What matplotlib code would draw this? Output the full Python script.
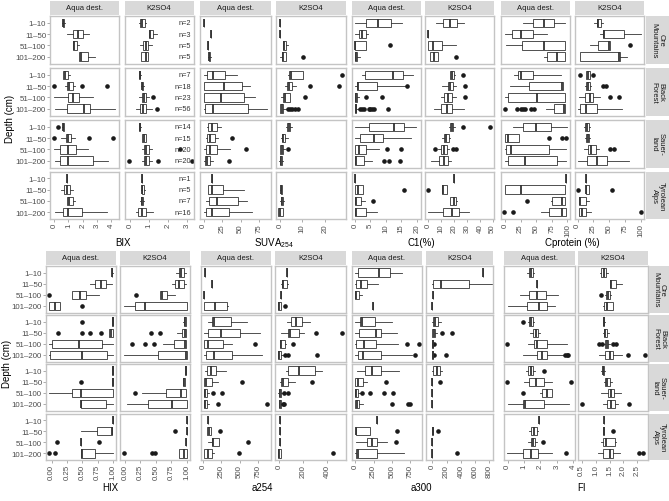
import matplotlib.pyplot as plt
from matplotlib.transforms import blended_transform_factory

plt.rcParams['font.family'] = ['Liberation Sans', 'DejaVu Sans']
plt.rcParams['mathtext.default'] = 'regular'

REGIONS = ['Ore\nMountains', 'Black\nForest', 'Sauer-\nland', 'Tyrolean\nAlps']
DEPTHS = ['1–10', '11–50', '51–100', '101–200']
EXTRACTANTS = ['Aqua dest.', 'K2SO4']
N_COUNTS = [[2, 3, 5, 5], [7, 18, 23, 56], [14, 15, 20, 20], [1, 5, 7, 16]]

# one entry per region x depth: ((whisker low, q1, median, q3, whisker high), outliers)
# a single value means one sample, None means no data
BIX_AQUA = [
    ((0.55, 0.58, 0.62, 0.68, 0.72), []), ((0.86, 1.29, 1.64, 2.04, 2.46), []),
    ((1.29, 1.29, 1.38, 1.57, 1.71), []), ((1.73, 1.73, 1.87, 2.39, 2.86), []),
    ((0.62, 0.62, 0.74, 0.97, 1.10), []), ((0.74, 0.86, 1.05, 1.29, 1.45), [0.0, 1.92, 3.69]),
    ((0.0, 0.97, 1.33, 1.75, 2.70), []), ((0.04, 0.90, 2.10, 2.50, 4.30), []),
    ((0.55, 0.60, 0.63, 0.67, 0.70), [0.27]), ((0.50, 0.80, 0.98, 1.21, 1.45), [0.0, 2.46, 4.10]),
    ((0.0, 0.39, 0.98, 1.52, 2.39), []), ((0.04, 0.39, 0.98, 2.74, 3.80), []),
    ((0.90,), []), ((0.50, 0.67, 0.86, 1.14, 1.33), []),
    ((0.86, 0.86, 1.02, 1.33, 1.45), []), ((0.04, 0.58, 0.98, 1.92, 3.69), []),
]
BIX_K2SO4 = [
    ((0.47, 0.54, 0.65, 0.77, 0.86), []), ((0.98, 0.98, 1.04, 1.21, 1.39), []),
    ((0.50, 0.68, 0.81, 0.95, 1.13), []), ((0.59, 0.59, 0.81, 0.95, 0.95), []),
    ((0.45, 0.47, 0.50, 0.53, 0.55), []), ((0.58, 0.60, 0.65, 0.70, 0.72), []),
    ((0.47, 0.65, 0.73, 0.86, 1.00), [1.21]), ((0.29, 0.54, 0.68, 0.86, 1.13), [1.39]),
    ((0.45, 0.47, 0.50, 0.53, 0.56), []), ((0.65, 0.65, 0.73, 0.81, 0.81), []),
    ((0.60, 0.73, 0.86, 1.00, 1.13), [2.63]), ((0.60, 0.73, 0.86, 0.98, 1.13), [-0.05, 1.44, 3.25]),
    ((0.65,), []), ((0.55, 0.60, 0.65, 0.73, 0.78), []),
    ((0.52, 0.56, 0.60, 0.68, 0.72), []), ((0.29, 0.41, 0.60, 0.82, 1.21), []),
]
SUVA_AQUA = [
    ((0.5,), []), ((10.0,), []), ((6.0,), []), ((5.5, 6.5, 7.5, 9.0, 10.0), []),
    ((0.0, 4.0, 13.0, 29.0, 45.0), []), ((0.0, 1.0, 27.0, 52.0, 62.0), []),
    ((0.0, 0.0, 23.6, 54.0, 70.0), []), ((0.0, 2.0, 13.0, 60.0, 86.0), []),
    ((4.0, 6.4, 11.0, 17.7, 24.0), []), ((3.0, 4.0, 9.0, 15.0, 20.0), [38.0]),
    ((0.0, 3.0, 9.0, 17.7, 36.0), [57.0]), ((0.0, 2.0, 5.0, 9.0, 12.0), [34.0]),
    ((11.7,), []), ((6.0, 6.0, 11.0, 26.0, 54.0), []),
    ((3.0, 7.6, 18.0, 47.0, 58.0), []), ((0.0, 3.0, 11.7, 33.6, 65.0), []),
]
SUVA_K2SO4 = [
    ((0.1,), []), ((0.1,), []), ((1.6, 1.6, 1.9, 2.8, 3.6), []), ((0.0, 1.1, 1.3, 2.8, 2.8), [10.2]),
    ((3.6, 4.3, 5.1, 10.2, 10.2), [27.6]), ((2.1, 3.1, 4.3, 5.5, 7.3), [13.6, 26.5]),
    ((0.5, 1.6, 2.1, 4.6, 4.6), [11.3]), ((0.0, 0.2, 0.8, 1.6, 2.8), [3.6, 4.6, 5.6, 6.6, 8.0]),
    ((2.6, 3.3, 3.9, 4.6, 5.3), []), ((0.7, 1.1, 1.6, 2.5, 3.6), []),
    ((0.0, 0.3, 1.0, 1.6, 2.5), [3.6]), ((-0.5, 0.0, 0.5, 1.1, 1.6), []),
    None, ((0.3, 0.4, 0.6, 1.1, 1.1), []),
    ((0.3, 0.7, 1.1, 1.6, 2.0), []), ((-0.6, -0.6, 0.2, 1.3, 1.3), []),
]
C1_AQUA = [
    ((0.0, 3.7, 7.5, 11.6, 15.2), []), ((0.0, 1.3, 2.4, 3.5, 4.3), []),
    ((0.0, 0.0, 0.0, 3.7, 3.7), [11.4]), ((0.0, 0.0, 0.2, 0.7, 1.5), []),
    ((2.4, 3.2, 12.3, 15.5, 18.8), []), ((0.0, 0.8, 0.9, 7.0, 16.1), [16.9]),
    ((0.0, 0.0, 0.2, 0.7, 1.2), [3.7, 8.9]),
    ((0.0, 0.0, 0.2, 0.5, 1.0), [1.8, 2.4, 3.0, 4.4, 5.0, 5.6, 6.2, 10.6]),
    ((0.0, 4.6, 12.7, 16.0, 19.6), []), ((0.0, 1.5, 6.1, 9.2, 18.2), []),
    ((0.0, 0.0, 1.3, 3.7, 7.9), [10.3, 15.0]), ((0.0, 0.0, 0.3, 3.0, 5.4), [9.4, 11.1, 14.6]),
    ((0.0,), []), ((0.0, 0.0, 1.0, 2.6, 2.6), [16.0]),
    ((0.0, 0.0, 0.5, 2.0, 3.4), [5.7]), ((0.0, 0.1, 0.4, 3.7, 7.0), []),
]
C1_K2SO4 = [
    ((6.0, 11.5, 17.2, 22.3, 27.7), []), ((0.2,), []),
    ((0.2, 0.2, 3.5, 11.0, 21.8), []), ((1.0, 1.7, 4.7, 7.3, 7.3), [21.8]),
    ((16.5, 17.2, 18.5, 19.7, 20.5), [27.2]), ((11.0, 15.2, 17.2, 19.2, 21.8), [28.5]),
    ((9.7, 12.2, 15.2, 18.5, 21.8), [28.5]), ((4.8, 9.7, 14.8, 18.5, 27.7), []),
    ((16.0, 17.2, 18.5, 19.5, 20.5), [27.2, 48.0]), ((11.0, 12.5, 14.0, 16.0, 17.0), []),
    ((7.3, 9.7, 12.5, 14.8, 15.8), [5.5, 19.3, 21.8]), ((2.2, 8.5, 12.2, 15.0, 17.5), []),
    ((19.7,), []), ((10.5, 10.5, 11.8, 14.8, 14.8), [0.2]),
    ((17.2, 17.2, 19.7, 21.8, 22.5), []), ((0.2, 11.8, 18.5, 23.5, 32.0), []),
]
CPROT_AQUA = [
    ((28.4, 45.7, 62.6, 78.4, 95.7), []), ((0.0, 11.7, 25.9, 45.7, 67.8), []),
    ((2.2, 27.4, 62.6, 95.7, 95.7), []), ((62.6, 67.8, 83.6, 95.7, 95.7), []),
    ((15.3, 20.5, 25.9, 45.3, 89.0), []), ((7.4, 37.9, 91.0, 92.6, 92.6), []),
    ((0.6, 4.7, 50.5, 95.7, 95.7), []),
    ((65.2, 78.4, 94.2, 95.7, 95.7), [0.6, 19.5, 26.0, 29.0, 32.0, 42.0, 47.0]),
    ((13.7, 28.4, 49.5, 73.2, 99.4), []), ((0.0, 0.0, 4.7, 23.2, 23.2), [70.5, 90.5, 97.8]),
    ((0.0, 2.2, 10.0, 70.5, 98.4), []), ((0.0, 4.7, 32.6, 83.6, 98.4), []),
    ((98.4,), []), ((0.6, 0.6, 25.9, 95.7, 95.7), []),
    ((74.0, 75.7, 90.5, 96.8, 96.8), [34.7]), ((57.4, 70.5, 90.5, 97.8, 97.8), [-1.6, 13.7]),
]
CPROT_K2SO4 = [
    ((26.3, 30.0, 32.8, 36.6, 40.8), []), ((35.5, 39.8, 42.4, 73.0, 100.0), []),
    ((19.4, 32.8, 48.9, 51.6, 51.6), [82.3]), ((4.3, 4.3, 65.0, 67.7, 77.4), []),
    ((14.0, 14.0, 16.6, 19.4, 19.4), [3.2, 24.7]), ((12.0, 14.0, 16.6, 19.4, 22.0), [39.8, 45.0]),
    ((1.6, 11.3, 19.4, 24.7, 35.5), [51.6, 65.0]), ((0.0, 4.3, 14.0, 30.0, 70.5), []),
    ((10.0, 12.4, 15.0, 18.2, 20.0), []), ((12.0, 14.0, 16.0, 18.2, 19.4), []),
    ((9.7, 16.6, 22.0, 29.0, 34.3), [50.5, 57.0]), ((0.5, 15.6, 30.0, 46.2, 81.0), []),
    ((14.0,), []), ((12.9, 12.9, 13.5, 18.2, 18.2), [0.5, 54.4]),
    ((2.1, 2.1, 3.5, 12.9, 18.2), []), ((2.1, 2.1, 7.6, 14.0, 22.0), [100.0]),
]
HIX_AQUA = [
    ((0.98, 0.98, 0.99, 0.99, 1.0), []), ((0.62, 0.71, 0.80, 0.89, 0.99), []),
    ((0.33, 0.33, 0.46, 0.56, 0.77), [-0.04]), ((-0.04, -0.04, 0.05, 0.13, 0.13), [0.49]),
    ((0.99, 0.99, 1.0, 1.0, 1.0), [0.49]), ((0.94, 0.94, 0.97, 1.0, 1.0), [0.10, 0.49, 0.62, 0.80]),
    ((-0.04, 0.0, 0.45, 0.82, 1.0), []), ((-0.04, -0.02, 0.49, 0.90, 1.0), []),
    ((0.99, 0.99, 1.0, 1.0, 1.0), []), ((0.99, 0.99, 1.0, 1.0, 1.0), [0.48]),
    ((-0.04, 0.33, 0.48, 1.0, 1.0), []), ((0.48, 0.48, 0.48, 0.88, 1.0), []),
    ((1.0,), []), ((0.48, 0.74, 0.98, 0.99, 0.99), []),
    ((0.48,), [0.09, 0.78]), ((0.48, 0.48, 0.49, 0.71, 1.0), [-0.04, 0.05]),
]
HIX_K2SO4 = [
    ((0.83, 0.87, 0.91, 0.95, 0.98), []), ((0.76, 0.81, 0.88, 0.95, 0.98), []),
    ((0.56, 0.56, 0.60, 0.68, 0.80), [0.18]), ((-0.02, 0.16, 0.33, 1.0, 1.0), []),
    ((0.94, 0.95, 0.97, 0.99, 0.99), []), ((0.84, 0.92, 0.97, 0.99, 0.99), [0.42, 0.57]),
    ((0.62, 0.79, 0.97, 0.99, 0.99), [0.12, 0.32, 0.47]), ((-0.02, 0.54, 0.98, 1.0, 1.0), []),
    ((0.97, 0.97, 0.98, 0.99, 0.99), []), ((0.94, 0.94, 0.95, 0.97, 0.97), []),
    ((0.27, 0.66, 0.90, 0.98, 0.99), [0.16]), ((0.03, 0.38, 0.76, 1.0, 1.0), []),
    ((1.0,), []), ((1.0,), [0.80]),
    ((0.99,), []), ((0.88, 0.88, 0.95, 1.0, 1.0), [-0.02, 0.43, 0.49]),
]
A254_AQUA = [
    ((27,), []), ((127,), []), ((18,), []), ((14, 14, 164, 323, 337), []),
    ((72, 119, 154, 378, 604), []), ((14, 72, 241, 505, 778), []),
    ((14, 14, 64, 277, 392), [709]), ((14, 41, 150, 400, 809), []),
    ((30, 50, 109, 177, 314), []), ((10, 14, 41, 119, 209), [528]),
    ((10, 14, 30, 59, 80), [141, 255]), ((10, 14, 30, 59, 80), [200, 877]),
    ((72,), []), ((50, 50, 80, 109, 109), [232]),
    ((72, 119, 140, 218, 218), [609]), ((14, 14, 64, 119, 154), [491]),
]
A254_K2SO4 = [
    ((64,), []), ((18, 22, 35, 64, 78), []), ((17,), []), ((-6, -6, 0, 17, 17), [50]),
    ((64, 100, 142, 189, 253), []), ((17, 78, 92, 167, 211), [306, 522]),
    ((8, 8, 20, 50, 60), [119]), ((-6, -6, 0, 17, 30), [50, 78, 314]),
    ((60, 78, 167, 300, 356), []), ((10, 17, 35, 78, 133), [272]),
    ((-5, 0, 8, 17, 25), [42, 78]), ((0, 2, 8, 17, 25), [33, 42]),
    ((8,), []), ((8,), []), ((8,), []), ((-6, -6, 0, 14, 14), [444]),
]
A300_AQUA = [
    ((0, 38, 325, 471, 630), []), ((0, 3, 75, 166, 311), []),
    ((0, 0, 15, 52, 85), []), ((235,), []),
    ((0, 61, 85, 266, 494), []), ((0, 52, 280, 357, 562), []),
    ((0, 3, 116, 280, 584), [707, 866]), ((0, 30, 106, 344, 770), [812]),
    ((25, 139, 221, 344, 598), []), ((0, 0, 30, 105, 153), [416]),
    ((0, 0, 15, 38, 60), [93, 198, 393, 516]), ((0, 0, 20, 52, 106), [507, 720, 743]),
    ((289,), []), ((7, 7, 16, 207, 207), [575]),
    ((16, 161, 221, 289, 426), [548]), ((0, 7, 38, 289, 666), []),
]
A300_K2SO4 = [
    ((715,), []), ((0, 4, 122, 509, 830), []), ((4,), []), ((0,), []),
    ((0, 14, 40, 74, 122), []), ((0, 0, 20, 42, 60), [130, 276]),
    ((0, 0, 2, 5, 8), [28]), ((0, 0, 2, 5, 10), [28, 192]),
    ((0, 4, 60, 108, 130), []), ((0,), [108]), ((0,), []), ((0,), []),
    None, ((0, 0, 2, 5, 8), [74]), ((0,), []), ((0,), [341]),
]
FI_AQUA = [
    ((1.2, 1.3, 1.4, 1.55, 1.6), []), ((1.76,), []),
    ((0.74, 1.31, 1.76, 2.33, 3.09), []), ((0.02, 1.18, 1.92, 2.41, 2.88), []),
    ((1.25, 1.31, 1.4, 1.52, 1.6), [0.94]), ((1.35, 1.55, 1.7, 1.86, 1.96), []),
    ((1.25, 1.6, 1.76, 2.41, 3.6), [-0.02]), ((0.94, 1.8, 2.07, 2.41, 3.39), [3.5, 3.62, 3.7]),
    ((1.1, 1.25, 1.4, 1.52, 1.65), [2.2]), ((1.0, 1.31, 1.72, 2.2, 2.68), [-0.02, 3.87]),
    ((2.0, 2.07, 2.37, 2.68, 2.68), [0.94]), ((0.02, 0.94, 1.04, 2.2, 3.76), []),
    ((1.92,), []), ((1.31, 1.45, 1.6, 1.76, 1.86), []),
    ((1.25, 1.45, 1.55, 1.66, 1.76), [2.13]), ((-0.02, 0.94, 1.45, 1.86, 2.68), [3.56]),
]
FI_K2SO4 = [
    ((1.15, 1.2, 1.3, 1.38, 1.45), []), ((1.5, 1.5, 1.55, 1.74, 1.95), []),
    ((1.35, 1.38, 1.45, 1.52, 1.55), [1.2]), ((1.25, 1.3, 1.42, 1.62, 1.62), []),
    ((1.27, 1.28, 1.3, 1.32, 1.33), []), ((1.25, 1.3, 1.35, 1.42, 1.47), []),
    ((1.3, 1.35, 1.4, 1.46, 1.52), [1.14, 1.22, 1.62, 1.74]),
    ((1.14, 1.35, 1.5, 1.62, 1.95), [2.18, 2.77]),
    ((1.2, 1.25, 1.28, 1.32, 1.35), []), ((1.3, 1.35, 1.42, 1.5, 1.6), []),
    ((1.2, 1.44, 1.55, 1.65, 1.92), []), ((1.25, 1.4, 1.55, 1.68, 1.8), [0.52, 2.21]),
    ((1.3,), []), ((1.28, 1.28, 1.3, 1.32, 1.32), [1.62]),
    ((1.2, 1.26, 1.36, 1.68, 1.75), []), ((1.1, 1.26, 1.5, 1.62, 1.87), [2.57, 2.69]),
]

TOP_TITLES = ['BIX', 'SUVA$_{254}$', 'C1(%)', 'Cprotein (%)']
TOP_DATA = [BIX_AQUA, BIX_K2SO4, SUVA_AQUA, SUVA_K2SO4, C1_AQUA, C1_K2SO4, CPROT_AQUA, CPROT_K2SO4]
TOP_TICKS = [[0, 1, 2, 3, 4], [0, 1, 2, 3], [0, 25, 50, 75], [0, 10, 20],
             [0, 5, 10, 15, 20], [0, 10, 20, 30, 40, 50], [0, 25, 50, 75, 100], [0, 25, 50, 75, 100]]
BOT_TITLES = ['HIX', 'a254', 'a300', 'FI']
BOT_DATA = [HIX_AQUA, HIX_K2SO4, A254_AQUA, A254_K2SO4, A300_AQUA, A300_K2SO4, FI_AQUA, FI_K2SO4]
BOT_TICKS = [[0, 0.25, 0.5, 0.75, 1.0], [0, 0.25, 0.5, 0.75, 1.0], [0, 250, 500, 750], [0, 200, 400],
             [0, 250, 500, 750], [0, 200, 400, 600, 800], [0, 1, 2, 3, 4], [0.5, 1.0, 1.5, 2.0, 2.5]]
BOT_FMT = ['{:.2f}', '{:.2f}', '{:g}', '{:g}', '{:g}', '{:g}', '{:g}', '{:.1f}']

# x limits per column (style / layout)
TOP_XLIM = [(-0.3, 4.55), (-0.29, 3.32), (-5, 91), (-1.9, 29.2),
            (-1.1, 21.2), (-2.5, 51), (-7, 104), (-4, 104)]
BOT_XLIM = [(-0.09, 1.05), (-0.08, 1.05), (-34, 924), (-32, 552),
            (-45, 905), (-90, 850), (-0.22, 4.1), (0.37, 2.88)]

W, H = 669, 502
LINE = '#333333'
fig = plt.figure(figsize=(W / 100, H / 100), dpi=100)


def px_axes(x0, y0, x1, y1):
    return fig.add_axes([x0 / W, 1 - y1 / H, (x1 - x0) / W, (y1 - y0) / H])


def strip(x0, y0, x1, y1, text, rot=0):
    ax = px_axes(x0, y0, x1, y1)
    ax.set_facecolor('#d9d9d9')
    ax.set_xticks([])
    ax.set_yticks([])
    for s in ax.spines.values():
        s.set_visible(False)
    ax.text(0.5, 0.5, text, transform=ax.transAxes, ha='center', va='center',
            fontsize=5.5, color='#1a1a1a', rotation=rot, linespacing=1.0)


def draw_boxes(ax, boxes):
    stats, pos = [], []
    for i, box in enumerate(boxes):
        if box is None:
            continue
        vals, out = box
        if len(vals) == 1:
            vals = vals * 5
        lo, q1, med, q3, hi = vals
        stats.append(dict(whislo=lo, q1=q1, med=med, q3=q3, whishi=hi, fliers=out))
        pos.append(i + 1)
    ax.bxp(stats, positions=pos, widths=0.75, orientation='horizontal',
           patch_artist=True, showcaps=False, manage_ticks=False,
           boxprops=dict(facecolor='white', edgecolor=LINE, linewidth=0.6),
           whiskerprops=dict(color=LINE, linewidth=0.6),
           medianprops=dict(color=LINE, linewidth=1.3),
           flierprops=dict(marker='o', markerfacecolor='#1a1a1a', markeredgecolor='#1a1a1a',
                           markersize=2.3, linestyle='none'))


def block(lefts, rights, tops, height, strip_y, strip_right, data, xlims, ticks, fmts,
          titles, title_x, title_y, depth_x, n_col=None):
    for c in range(8):
        strip(lefts[c], strip_y[0], rights[c], strip_y[1], EXTRACTANTS[c % 2])
        for r in range(4):
            ax = px_axes(lefts[c], tops[r], rights[c], tops[r] + height)
            draw_boxes(ax, data[c][r * 4:(r + 1) * 4])
            ax.set_xlim(*xlims[c])
            ax.set_ylim(4.6, 0.4)
            for s in ax.spines.values():
                s.set_color('#c4c4c4')
                s.set_linewidth(1.0)
            ax.tick_params(length=2, width=0.5, color='#8c8c8c', labelsize=5.7,
                           labelcolor='#4d4d4d', pad=0.8)
            ax.set_xticks(ticks[c])
            if r == 3:
                ax.set_xticklabels([fmts[c].format(t) for t in ticks[c]], rotation=90)
            else:
                ax.tick_params(axis='x', bottom=False, labelbottom=False)
            ax.set_yticks([1, 2, 3, 4])
            if c == 0:
                ax.set_yticklabels(DEPTHS)
            else:
                ax.tick_params(axis='y', left=False, labelleft=False)
            if n_col is not None and c == n_col:
                tr = blended_transform_factory(ax.transAxes, ax.transData)
                for d, n in enumerate(N_COUNTS[r]):
                    ax.text(0.965, d + 1, f'n={n}', transform=tr, ha='right', va='center',
                            fontsize=5.3, color='#333333')
            if c == 7:
                strip(strip_right[0], tops[r], strip_right[1], tops[r] + height, REGIONS[r], rot=270)
    for t, x in zip(titles, title_x):
        fig.text(x / W, 1 - title_y / H, t, ha='center', va='center', fontsize=7)
    fig.text(depth_x / W, 1 - (tops[0] + tops[3] + height) / 2 / H, 'Depth (cm)',
             rotation=90, ha='center', va='center', fontsize=7)


block(lefts=[50, 124.5, 200, 275.5, 351.5, 425, 500.5, 575],
      rights=[119, 193.5, 271, 345.5, 420.5, 494, 570, 643.5],
      tops=[17, 69, 121, 172.5], height=47.5, strip_y=(2, 16), strip_right=(646, 669),
      data=TOP_DATA, xlims=TOP_XLIM, ticks=TOP_TICKS, fmts=['{:g}'] * 8,
      titles=TOP_TITLES, title_x=[122.5, 274, 421.7, 572.7], title_y=243, depth_x=10, n_col=1)

block(lefts=[46, 120, 200.5, 275, 352, 426, 504, 578],
      rights=[116, 190, 270.7, 345.7, 421.7, 493, 575, 648],
      tops=[267, 316, 365, 414.5], height=46.5, strip_y=(252, 266), strip_right=(649, 669),
      data=BOT_DATA, xlims=BOT_XLIM, ticks=BOT_TICKS, fmts=BOT_FMT,
      titles=BOT_TITLES, title_x=[110, 262.5, 421.7, 581.5], title_y=488, depth_x=7)

fig.savefig('out.png', dpi=100)
